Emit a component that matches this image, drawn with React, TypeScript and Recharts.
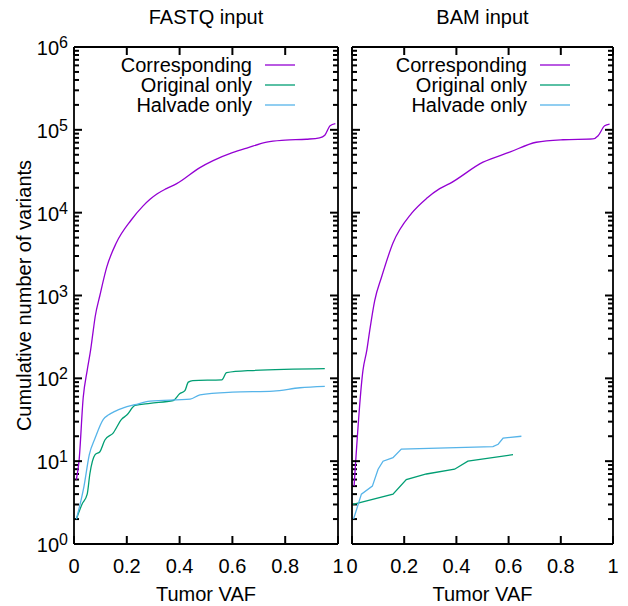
import React from 'react';
import { Legend, Line, LineChart, ReferenceLine, XAxis, YAxis } from 'recharts';

const FONT = '"Liberation Sans", Arial, Helvetica, sans-serif';
const PURPLE = '#9400d3';
const GREEN = '#009e73';
const BLUE = '#56b4e9';
const INK = '#000';

/* ─────────────── ticks ─────────────── */

const xTicks = [0, 0.2, 0.4, 0.6, 0.8, 1];
const yTicks = [1, 10, 100, 1000, 10000, 100000, 1000000];
const yMinorTicks = yTicks.slice(0, -1).flatMap((d) => [2, 3, 4, 5, 6, 7, 8, 9].map((m) => m * d));

/* ─────────────── FASTQ input ─────────────── */

const fastqCorrVaf = [0.009, 0.019, 0.035, 0.05, 0.063, 0.073, 0.08, 0.098, 0.124, 0.16, 0.216, 0.261, 0.288, 0.314, 0.35, 0.389, 0.477, 0.527, 0.6, 0.66, 0.73, 0.8, 0.88, 0.93, 0.95, 0.97, 0.99];
const fastqCorrCount = [6, 10, 59, 125, 220, 380, 550, 1000, 2200, 4300, 8100, 12000, 14500, 16800, 19500, 22400, 35000, 42500, 53000, 61000, 71000, 75000, 77000, 80000, 86000, 112000, 119000];

const fastqOrigVaf = [0.009, 0.03, 0.05, 0.06, 0.08, 0.098, 0.117, 0.149, 0.18, 0.2, 0.231, 0.288, 0.376, 0.4, 0.42, 0.433, 0.45, 0.56, 0.578, 0.667, 0.95];
const fastqOrigCount = [2, 3, 4, 7, 12, 13, 18, 22, 32, 36, 47, 50, 54, 65, 71, 90, 94, 96, 117, 124, 131];

const fastqHalvVaf = [0.009, 0.038, 0.058, 0.08, 0.111, 0.13, 0.155, 0.187, 0.231, 0.288, 0.44, 0.477, 0.6, 0.755, 0.856, 0.95];
const fastqHalvCount = [2, 5, 12, 19, 32, 36, 40, 44, 48, 53, 56, 63, 68, 70, 77, 80];

/* ─────────────── BAM input ─────────────── */

const bamCorrVaf = [0.008, 0.042, 0.057, 0.068, 0.087, 0.113, 0.157, 0.228, 0.285, 0.336, 0.374, 0.502, 0.604, 0.706, 0.808, 0.923, 0.943, 0.968, 0.987];
const bamCorrCount = [5, 125, 220, 380, 870, 1660, 4300, 9800, 14800, 19500, 22400, 40700, 53700, 70800, 75900, 77600, 85000, 112000, 117500];

const bamOrigVaf = [0.004, 0.157, 0.208, 0.285, 0.393, 0.444, 0.617];
const bamOrigCount = [3, 4, 6, 7, 8, 10, 12];

const bamHalvVaf = [0.006, 0.036, 0.078, 0.1, 0.119, 0.157, 0.189, 0.54, 0.56, 0.579, 0.649];
const bamHalvCount = [2, 4, 5, 8, 10, 11, 14, 15, 16, 19, 20];

const zip = (xs: number[], ys: number[]) => xs.map((x, i) => ({ vaf: x, n: ys[i] }));

type Curve = 'monotone' | 'linear';

interface Series {
  name: string;
  color: string;
  curve: Curve;
  data: { vaf: number; n: number }[];
}

const fastqSeries: Series[] = [
  { name: 'Corresponding', color: PURPLE, curve: 'monotone', data: zip(fastqCorrVaf, fastqCorrCount) },
  { name: 'Original only', color: GREEN, curve: 'monotone', data: zip(fastqOrigVaf, fastqOrigCount) },
  { name: 'Halvade only', color: BLUE, curve: 'monotone', data: zip(fastqHalvVaf, fastqHalvCount) },
];

const bamSeries: Series[] = [
  { name: 'Corresponding', color: PURPLE, curve: 'monotone', data: zip(bamCorrVaf, bamCorrCount) },
  { name: 'Original only', color: GREEN, curve: 'linear', data: zip(bamOrigVaf, bamOrigCount) },
  { name: 'Halvade only', color: BLUE, curve: 'linear', data: zip(bamHalvVaf, bamHalvCount) },
];

/* ─────────────── layout ─────────────── */

const CHART_H = 606;
const PLOT_TOP = 47;
const X_AXIS_H = 62;
const PLOT_H = CHART_H - PLOT_TOP - X_AXIS_H;
const MAJOR = 8;
const MINOR = 5;
const Y_MAX = 1000000;

const tickStroke = { stroke: INK, strokeWidth: 2 };
const axisStroke = { stroke: INK, strokeWidth: 1.8 };

/* ─────────────── pieces ─────────────── */

function PowerTick({ x, y, payload }: any) {
  const exp = Math.round(Math.log10(payload.value));
  return (
    <text x={x} y={y + 8} textAnchor="end" fontFamily={FONT} fontSize={20} fill={INK}>
      10
      <tspan dy={-7} fontSize={16}>
        {exp}
      </tspan>
    </text>
  );
}

const noTick = () => <g />;

function LegendBox({ series }: { series: Series[] }) {
  return (
    <div style={{ fontFamily: FONT, fontSize: 20, lineHeight: '20px', color: INK }}>
      {series.map((s) => (
        <div
          key={s.name}
          style={{ display: 'flex', alignItems: 'center', justifyContent: 'flex-end', height: 20, whiteSpace: 'nowrap' }}
        >
          <span>{s.name}</span>
          <svg width={30} height={4} style={{ marginLeft: 13, display: 'block' }}>
            <line x1={0} y1={2} x2={30} y2={2} stroke={s.color} strokeWidth={1.3} />
          </svg>
        </div>
      ))}
    </div>
  );
}

interface PanelProps {
  title: string;
  series: Series[];
  width: number;
  yAxisWidth: number;
  marginRight: number;
  showYLabels: boolean;
}

function Panel({ title, series, width, yAxisWidth, marginRight, showYLabels }: PanelProps) {
  const plotW = width - yAxisWidth - marginRight;
  const legendRight = marginRight + 43;
  // inward tick lengths expressed in axis units
  const dxMajor = MAJOR / plotW;
  const dxMinor = MINOR / plotW;
  const topTickEnd = Y_MAX / Math.pow(10, (MAJOR * 6) / PLOT_H);

  const seg = (key: string, a: { x: number; y: number }, b: { x: number; y: number }) => (
    <ReferenceLine
      key={key}
      xAxisId="x"
      yAxisId="y"
      segment={[a, b]}
      stroke={INK}
      strokeWidth={2}
      ifOverflow="visible"
    />
  );

  return (
    <LineChart width={width} height={CHART_H} margin={{ top: PLOT_TOP, right: marginRight, bottom: 0, left: 0 }}>
      <XAxis
        xAxisId="x"
        dataKey="vaf"
        type="number"
        domain={[0, 1]}
        ticks={xTicks}
        interval={0}
        height={X_AXIS_H}
        tickLine={tickStroke}
        tickSize={-MAJOR}
        tickMargin={MAJOR + 15}
        axisLine={axisStroke}
        tick={{ fill: INK, fontSize: 20, fontFamily: FONT }}
        tickFormatter={(v) => String(v)}
        allowDataOverflow
        label={{
          content: ({ viewBox }: any) => (
            <text
              x={viewBox.x + viewBox.width / 2}
              y={viewBox.y + 57}
              textAnchor="middle"
              fontFamily={FONT}
              fontSize={20}
              fill={INK}
            >
              Tumor VAF
            </text>
          ),
        }}
      />
      <XAxis
        xAxisId="xt"
        orientation="top"
        mirror
        height={1}
        type="number"
        domain={[0, 1]}
        allowDataOverflow
        tick={false}
        tickLine={false}
        axisLine={axisStroke}
        label={{
          content: ({ viewBox }: any) => (
            <text
              x={viewBox.x + viewBox.width / 2}
              y={viewBox.y - 23}
              textAnchor="middle"
              fontFamily={FONT}
              fontSize={20}
              fill={INK}
            >
              {title}
            </text>
          ),
        }}
      />
      <YAxis
        yAxisId="y"
        type="number"
        scale="log"
        domain={[1, Y_MAX]}
        ticks={yTicks}
        interval={0}
        width={yAxisWidth}
        tickLine={tickStroke}
        tickSize={-MAJOR}
        tickMargin={MAJOR + 6}
        axisLine={axisStroke}
        tick={showYLabels ? (p: any) => <PowerTick {...p} /> : noTick}
        allowDataOverflow
        label={
          showYLabels
            ? {
                content: ({ viewBox }: any) => {
                  const cx = viewBox.x + 31;
                  const cy = viewBox.y + viewBox.height / 2;
                  return (
                    <text
                      x={cx}
                      y={cy}
                      transform={`rotate(-90 ${cx} ${cy})`}
                      textAnchor="middle"
                      fontFamily={FONT}
                      fontSize={20}
                      fill={INK}
                    >
                      Cumulative number of variants
                    </text>
                  );
                },
              }
            : undefined
        }
      />
      <YAxis
        yAxisId="yr"
        orientation="right"
        mirror
        width={1}
        type="number"
        scale="log"
        domain={[1, Y_MAX]}
        allowDataOverflow
        tick={false}
        tickLine={false}
        axisLine={axisStroke}
      />
      {/* mirrored / minor tick marks */}
      {yTicks.map((v) => seg(`rM${v}`, { x: 1 - dxMajor, y: v }, { x: 1, y: v }))}
      {yMinorTicks.map((v) => seg(`lm${v}`, { x: 0, y: v }, { x: dxMinor, y: v }))}
      {yMinorTicks.map((v) => seg(`rm${v}`, { x: 1 - dxMinor, y: v }, { x: 1, y: v }))}
      {xTicks.map((v) => seg(`t${v}`, { x: v, y: topTickEnd }, { x: v, y: Y_MAX }))}
      <Legend
        layout="vertical"
        align="center"
        verticalAlign="middle"
        wrapperStyle={{ top: 55, right: legendRight, left: 'auto', width: 'auto' }}
        content={() => <LegendBox series={series} />}
      />
      {series.map((s) => (
        <Line
          key={s.name}
          name={s.name}
          data={s.data}
          dataKey="n"
          xAxisId="x"
          yAxisId="y"
          type={s.curve}
          stroke={s.color}
          strokeWidth={1.3}
          dot={false}
          activeDot={false}
          isAnimationActive={false}
        />
      ))}
    </LineChart>
  );
}

export default function App() {
  return (
    <div style={{ position: 'absolute', left: 0, top: 0, width: 628, height: 606, background: '#fff' }}>
      <div style={{ position: 'absolute', left: 0, top: 0 }}>
        <Panel title="FASTQ input" series={fastqSeries} width={345} yAxisWidth={74} marginRight={7} showYLabels />
      </div>
      <div style={{ position: 'absolute', left: 345, top: 0 }}>
        <Panel title="BAM input" series={bamSeries} width={283} yAxisWidth={7} marginRight={15} showYLabels={false} />
      </div>
    </div>
  );
}
